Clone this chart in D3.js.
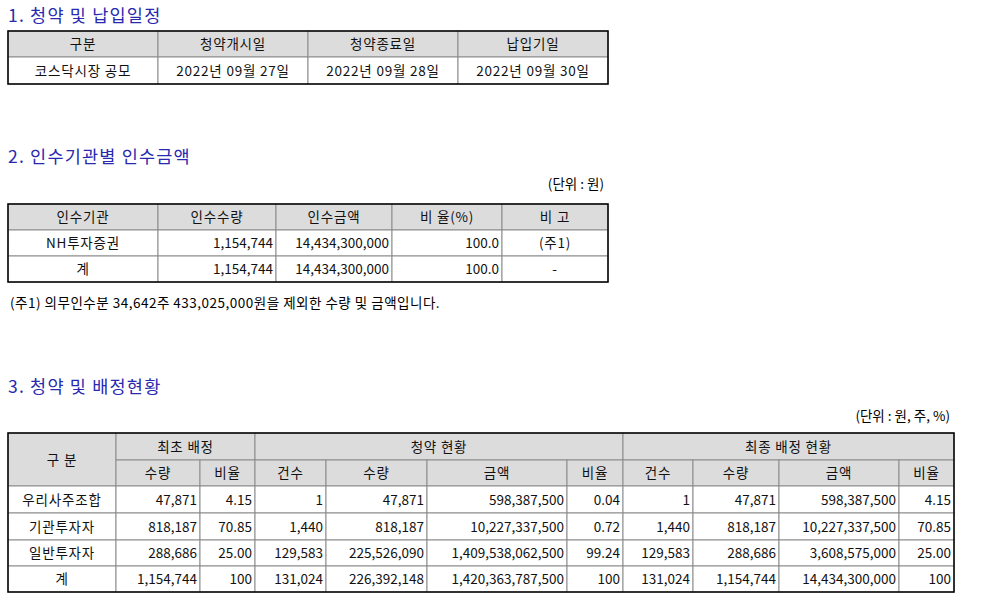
<!DOCTYPE html>
<html><head><meta charset="utf-8">
<script src="https://cdn.jsdelivr.net/npm/d3@7"></script>
<style>body{margin:0;background:#fff}text{font-family:"Noto Sans CJK KR","Noto Sans",sans-serif}</style>
</head><body><svg id="c" width="981" height="600"></svg>
<script>
// Section titles
const titles = ['1. 청약 및 납입일정', '2. 인수기관별 인수금액', '3. 청약 및 배정현황'];

// Table 1
const t1Head = ['구분', '청약개시일', '청약종료일', '납입기일'];
const t1Rows = [['코스닥시장 공모', '2022년 09월 27일', '2022년 09월 28일', '2022년 09월 30일']];

// Table 2
const t2Head = ['인수기관', '인수수량', '인수금액', '비 율(%)', '비 고'];
const t2Rows = [
  ['NH투자증권', '1,154,744', '14,434,300,000', '100.0', '(주1)'],
  ['계', '1,154,744', '14,434,300,000', '100.0', '-']
];
const t2Note = '(주1) 의무인수분 34,642주 433,025,000원을 제외한 수량 및 금액입니다.';

// Table 3
const t3Groups = ['최초 배정', '청약 현황', '최종 배정 현황'];
const t3Sub = ['수량', '비율', '건수', '수량', '금액', '비율', '건수', '수량', '금액', '비율'];
const t3Cats = ['우리사주조합', '기관투자자', '일반투자자', '계'];
const t3Vals = [
  ['47,871', '4.15', '1', '47,871', '598,387,500', '0.04', '1', '47,871', '598,387,500', '4.15'],
  ['818,187', '70.85', '1,440', '818,187', '10,227,337,500', '0.72', '1,440', '818,187', '10,227,337,500', '70.85'],
  ['288,686', '25.00', '129,583', '225,526,090', '1,409,538,062,500', '99.24', '129,583', '288,686', '3,608,575,000', '25.00'],
  ['1,154,744', '100', '131,024', '226,392,148', '1,420,363,787,500', '100', '131,024', '1,154,744', '14,434,300,000', '100']
];

const svg = d3.select('#c');
const grey = '#dcdcdc', line = '#8c8c8c';

function cell(x0, x1, y0, y1, txt, fill, align) {
  svg.append('rect').attr('x', x0).attr('y', y0).attr('width', x1 - x0).attr('height', y1 - y0)
    .attr('fill', fill || '#fff').attr('stroke', line).attr('stroke-width', 1);
  const tx = align === 'end' ? x1 - 3 : (x0 + x1) / 2;
  svg.append('text').attr('x', tx).attr('y', (y0 + y1) / 2 + 5)
    .attr('text-anchor', align || 'middle').attr('font-size', 13.5)
    .attr('letter-spacing', align === 'end' ? 0 : 0.8).attr('fill', '#111').text(txt);
}
function frame(x0, x1, y0, y1) {
  svg.append('rect').attr('x', x0).attr('y', y0).attr('width', x1 - x0).attr('height', y1 - y0)
    .attr('fill', 'none').attr('stroke', '#000').attr('stroke-width', 1.5);
}
function title(t, y) {
  svg.append('text').attr('x', 8).attr('y', y).attr('font-size', 17.5).attr('letter-spacing', 1.2)
    .attr('fill', '#2828b0').text(t);
}

// 1
title(titles[0], 22);
const c1 = [8, 158, 308, 458, 608];
t1Head.forEach((h, i) => cell(c1[i], c1[i + 1], 31, 57, h, grey));
t1Rows.forEach((r, j) => r.forEach((v, i) => cell(c1[i], c1[i + 1], 57 + j * 27, 84 + j * 27, v)));
frame(8, 608, 31, 84);

// 2
title(titles[1], 163);
svg.append('text').attr('x', 604).attr('y', 189).attr('text-anchor', 'end').attr('font-size', 13.5).text('(단위 : 원)');
const c2 = [8, 158, 276, 392, 502, 608];
const y2 = [204, 230, 256, 282];
t2Head.forEach((h, i) => cell(c2[i], c2[i + 1], y2[0], y2[1], h, grey));
t2Rows.forEach((r, j) => r.forEach((v, i) =>
  cell(c2[i], c2[i + 1], y2[j + 1], y2[j + 2], v, null, (i >= 1 && i <= 3) ? 'end' : 'middle')));
frame(8, 608, 204, 282);
svg.append('text').attr('x', 10).attr('y', 308).attr('font-size', 13.5).attr('letter-spacing', 0.5).text(t2Note);

// 3
title(titles[2], 393);
svg.append('text').attr('x', 950).attr('y', 421).attr('text-anchor', 'end').attr('font-size', 13.5).text('(단위 : 원, 주, %)');
const c3 = [8, 116, 200, 255, 326, 427, 567, 623, 693, 779, 899, 954];
const y3 = [433, 460, 486, 513, 540, 566, 592];
cell(c3[0], c3[1], y3[0], y3[2], '구  분', grey);
const gSpan = [[1, 3], [3, 7], [7, 11]];
t3Groups.forEach((g, i) => cell(c3[gSpan[i][0]], c3[gSpan[i][1]], y3[0], y3[1], g, grey));
t3Sub.forEach((s, i) => cell(c3[i + 1], c3[i + 2], y3[1], y3[2], s, grey));
t3Cats.forEach((cat, j) => {
  cell(c3[0], c3[1], y3[j + 2], y3[j + 3], cat);
  t3Vals[j].forEach((v, i) => cell(c3[i + 1], c3[i + 2], y3[j + 2], y3[j + 3], v, null, 'end'));
});
frame(8, 954, 433, 592);
</script></body></html>
